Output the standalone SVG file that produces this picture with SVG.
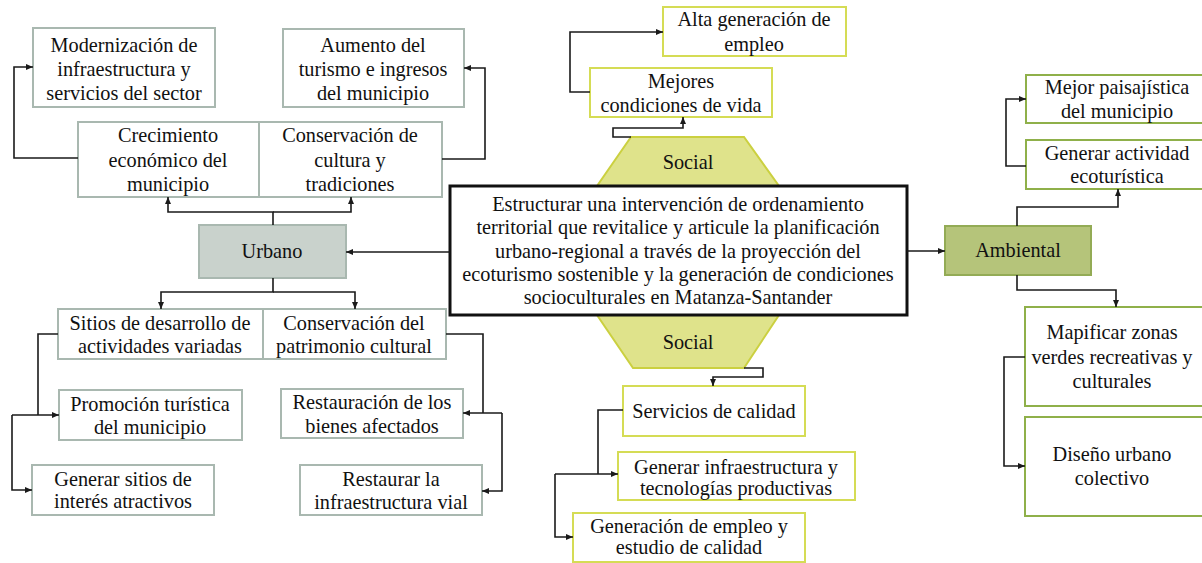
<svg xmlns="http://www.w3.org/2000/svg" width="1202" height="563" viewBox="0 0 1202 563">
<defs>
<marker id="ah" markerUnits="userSpaceOnUse" markerWidth="8" markerHeight="7" refX="7" refY="3" orient="auto">
<path d="M0,0 L7,3 L0,6 z" fill="#1a1a1a"/>
</marker>
<style>
text{font-family:"Liberation Serif","Times New Roman",serif;font-size:20.3px;fill:#111;text-anchor:middle}
.g{fill:#fff;stroke:#a9b8b0;stroke-width:2}
.u{fill:#c9d2cc;stroke:#a9b8b0;stroke-width:2}
.y{fill:#fff;stroke:#d5dc55;stroke-width:2}
.t{fill:#dfe38b;stroke:#cbd040;stroke-width:2}
.v{fill:#fff;stroke:#8fb04a;stroke-width:2}
.a{fill:#b5c47a;stroke:#93ab55;stroke-width:2}
.m{fill:#fff;stroke:#111;stroke-width:3}
.c path{fill:none;stroke:#1a1a1a;stroke-width:1.6}
</style>
</defs>
<rect width="1202" height="563" fill="#fff"/>

<g id="modernizacion"><rect class="g" x="33" y="28" width="182" height="79"/><text x="124" y="52">Modernización de</text><text x="124" y="76">infraestructura y</text><text x="124" y="100">servicios del sector</text></g>
<g id="aumento"><rect class="g" x="283" y="29" width="181" height="78"/><text x="373" y="52">Aumento del</text><text x="373" y="76">turismo e ingresos</text><text x="373" y="100">del municipio</text></g>
<g id="crecimiento"><rect class="g" x="78" y="122" width="181" height="75"/><text x="168" y="142">Crecimiento</text><text x="168" y="167">económico del</text><text x="168" y="191">municipio</text></g>
<g id="conservacion-cultura"><rect class="g" x="259" y="122" width="183" height="75"/><text x="350" y="142">Conservación de</text><text x="350" y="167">cultura y</text><text x="350" y="191">tradiciones</text></g>
<g id="urbano"><rect class="u" x="199" y="225" width="147" height="53"/><text x="272" y="258">Urbano</text></g>
<g id="sitios"><rect class="g" x="58" y="309" width="205" height="50"/><text x="160" y="330">Sitios de desarrollo de</text><text x="160" y="353">actividades variadas</text></g>
<g id="conservacion-patrimonio"><rect class="g" x="263" y="309" width="183" height="50"/><text x="354" y="330">Conservación del</text><text x="354" y="353">patrimonio cultural</text></g>
<g id="promocion"><rect class="g" x="59" y="390" width="183" height="50"/><text x="150" y="411">Promoción turística</text><text x="150" y="434">del municipio</text></g>
<g id="generar-sitios"><rect class="g" x="32" y="465" width="182" height="50"/><text x="123" y="486">Generar sitios de</text><text x="123" y="508">interés atractivos</text></g>
<g id="restauracion"><rect class="g" x="281" y="389" width="182" height="49"/><text x="372" y="409">Restauración de los</text><text x="372" y="433">bienes afectados</text></g>
<g id="restaurar"><rect class="g" x="300" y="465" width="182" height="50"/><text x="391" y="486">Restaurar la</text><text x="391" y="509">infraestructura vial</text></g>

<g id="alta-generacion"><rect class="y" x="663" y="7" width="183" height="49"/><text x="754" y="26">Alta generación de</text><text x="754" y="51">empleo</text></g>
<g id="mejores"><rect class="y" x="590" y="68" width="182" height="49"/><text x="681" y="88">Mejores</text><text x="681" y="112">condiciones de vida</text></g>
<g id="social-top"><polygon class="t" points="631,137 744,137 779,186 597,186"/><text x="688" y="169">Social</text></g>
<g id="social-bottom"><polygon class="t" points="597,315 779,315 744,368 633,368"/><text x="688" y="349">Social</text></g>
<g id="main"><rect class="m" x="450" y="186" width="457" height="129"/><text x="678" y="211">Estructurar una intervención de ordenamiento</text><text x="678" y="234">territorial que revitalice y articule la planificación</text><text x="678" y="258">urbano-regional a través de la proyección del</text><text x="678" y="281">ecoturismo sostenible y la generación de condiciones</text><text x="678" y="304">socioculturales en Matanza-Santander</text></g>
<g id="servicios"><rect class="y" x="623" y="386" width="182" height="50"/><text x="714" y="418">Servicios de calidad</text></g>
<g id="generar-infra"><rect class="y" x="618" y="452" width="237" height="48"/><text x="736" y="474">Generar infraestructura y</text><text x="736" y="495">tecnologías productivas</text></g>
<g id="generacion-empleo"><rect class="y" x="573" y="513" width="232" height="49"/><text x="689" y="533">Generación de empleo y</text><text x="689" y="554">estudio de calidad</text></g>

<g id="ambiental"><rect class="a" x="945" y="226" width="146" height="49"/><text x="1018" y="257">Ambiental</text></g>
<g id="mejor-paisajistica"><rect class="v" x="1026" y="75" width="180" height="48"/><text x="1117" y="94">Mejor paisajística</text><text x="1117" y="118">del municipio</text></g>
<g id="generar-actividad"><rect class="v" x="1026" y="140" width="180" height="49"/><text x="1117" y="160">Generar actividad</text><text x="1117" y="183">ecoturística</text></g>
<g id="mapificar"><rect class="v" x="1025" y="307" width="181" height="99"/><text x="1112" y="339">Mapificar zonas</text><text x="1112" y="364">verdes recreativas y</text><text x="1112" y="388">culturales</text></g>
<g id="diseno"><rect class="v" x="1025" y="417" width="181" height="99"/><text x="1112" y="461">Diseño urbano</text><text x="1112" y="485">colectivo</text></g>

<g id="connectors" class="c">
<path d="M78,158 H14 V67 H33" marker-end="url(#ah)"/>
<path d="M442,159 H485 V68 H464" marker-end="url(#ah)"/>
<path d="M273,225 V212 H168 V197" marker-end="url(#ah)"/>
<path d="M273,212 H351 V197" marker-end="url(#ah)"/>
<path d="M450,252 H346" marker-end="url(#ah)"/>
<path d="M273,278 V292 H161 V309" marker-end="url(#ah)"/>
<path d="M273,292 H355 V309" marker-end="url(#ah)"/>
<path d="M58,334 H38 V415"/>
<path d="M12,415 H59" marker-end="url(#ah)"/>
<path d="M12,415 V490 H32" marker-end="url(#ah)"/>
<path d="M446,334 H483 V413"/>
<path d="M502,413 H463" marker-end="url(#ah)"/>
<path d="M502,413 V491 H482" marker-end="url(#ah)"/>
<path d="M590,92 H570 V32 H663" marker-end="url(#ah)"/>
<path d="M631,137 H613 V128 H683 V117" marker-end="url(#ah)"/>
<path d="M744,368 H763 V377 H713 V386" marker-end="url(#ah)"/>
<path d="M623,410 H598 V474"/>
<path d="M555,474 H618" marker-end="url(#ah)"/>
<path d="M555,474 V537 H573" marker-end="url(#ah)"/>
<path d="M907,251 H945" marker-end="url(#ah)"/>
<path d="M1017,226 V207 H1118 V189" marker-end="url(#ah)"/>
<path d="M1026,166 H1006 V99 H1026" marker-end="url(#ah)"/>
<path d="M1017,275 V290 H1116 V307" marker-end="url(#ah)"/>
<path d="M1025,357 H1004 V466 H1025" marker-end="url(#ah)"/>
</g>
</svg>
